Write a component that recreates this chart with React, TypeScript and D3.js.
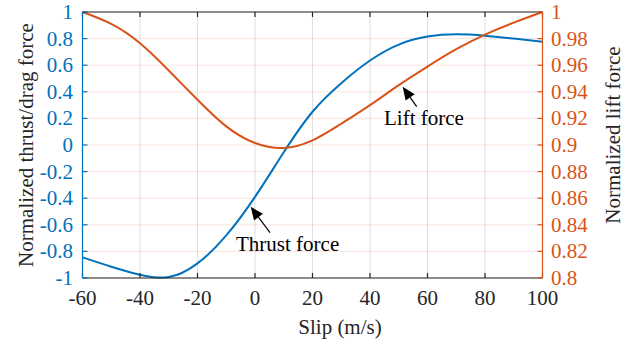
import React from "react";
import * as d3 from "d3";

const slip = [-60, -50, -40, -30, -20, -10, 0, 10, 20, 30, 40, 50, 60, 70, 80, 90, 100];
const thrust = [-0.845, -0.915, -0.975, -0.993, -0.89, -0.68, -0.39, -0.055, 0.25, 0.465, 0.635, 0.755, 0.815, 0.832, 0.822, 0.8, 0.777];
const lift = [1.0, 0.991, 0.9765, 0.956, 0.934, 0.914, 0.9015, 0.8978, 0.9035, 0.916, 0.93, 0.945, 0.959, 0.972, 0.983, 0.992, 1.0];

const xTicks = [-60, -40, -20, 0, 20, 40, 60, 80, 100];
const leftTicks = [-1, -0.8, -0.6, -0.4, -0.2, 0, 0.2, 0.4, 0.6, 0.8, 1];
const rightTicks = [0.8, 0.82, 0.84, 0.86, 0.88, 0.9, 0.92, 0.94, 0.96, 0.98, 1];

const BLUE = "#0072BD";
const ORANGE = "#D95319";
const DARK = "#262626";
const FONT = "Liberation Serif, DejaVu Serif, serif";

const fmt = (v: number) => String(Math.round(v * 1000) / 1000);

export default function App() {
  const W = 635, H = 343;
  const L = 82.5, R = 542.5, T = 12, B = 278;
  const x = d3.scaleLinear().domain([-60, 100]).range([L, R]);
  const yL = d3.scaleLinear().domain([-1, 1]).range([B, T]);
  const yR = d3.scaleLinear().domain([0.8, 1]).range([B, T]);

  const thrustLine = d3.line<number>().x((_, i) => x(slip[i])).y((d) => yL(d)).curve(d3.curveNatural);
  const liftLine = d3.line<number>().x((_, i) => x(slip[i])).y((d) => yR(d)).curve(d3.curveNatural);

  const tk = 5;

  const arrow = (tipX: number, tipY: number, tailX: number, tailY: number) => {
    const dx = tipX - tailX, dy = tipY - tailY;
    const len = Math.hypot(dx, dy);
    const ux = dx / len, uy = dy / len;
    const hl = 13, hw = 5.5;
    const bx = tipX - ux * hl, by = tipY - uy * hl;
    const px = -uy, py = ux;
    return (
      <g>
        <line x1={tailX} y1={tailY} x2={bx} y2={by} stroke="#000" strokeWidth={1.2} />
        <path d={`M${tipX},${tipY}L${bx + px * hw},${by + py * hw}L${bx - px * hw},${by - py * hw}Z`} fill="#000" />
      </g>
    );
  };

  const ts = { fontFamily: FONT, fontSize: "21px" } as React.CSSProperties;

  return (
    <svg width={W} height={H} style={{ position: "absolute", left: 0, top: 0, background: "#fff" }}>
      <rect x={0} y={0} width={W} height={H} fill="#fff" />
      {xTicks.map((t) => (
        <line key={"vg" + t} x1={x(t)} x2={x(t)} y1={T} y2={B} stroke={DARK} strokeOpacity={0.15} strokeWidth={1} />
      ))}
      {rightTicks.map((t) => (
        <line key={"hg" + t} x1={L} x2={R} y1={yR(t)} y2={yR(t)} stroke={ORANGE} strokeOpacity={0.15} strokeWidth={1} />
      ))}
      <path d={thrustLine(thrust) || ""} fill="none" stroke={BLUE} strokeWidth={2} />
      <path d={liftLine(lift) || ""} fill="none" stroke={ORANGE} strokeWidth={2} />

      <line x1={L} x2={R} y1={T} y2={T} stroke={DARK} strokeWidth={1.2} />
      <line x1={L} x2={R} y1={B} y2={B} stroke={DARK} strokeWidth={1.2} />
      {xTicks.map((t) => (
        <g key={"xt" + t}>
          <line x1={x(t)} x2={x(t)} y1={B} y2={B - tk} stroke={DARK} strokeWidth={1.2} />
          <line x1={x(t)} x2={x(t)} y1={T} y2={T + tk} stroke={DARK} strokeWidth={1.2} />
          <text x={x(t)} y={305} textAnchor="middle" style={ts} fill={DARK}>{fmt(t)}</text>
        </g>
      ))}
      <line x1={L} x2={L} y1={T} y2={B} stroke={BLUE} strokeWidth={1.2} />
      {leftTicks.map((t) => (
        <g key={"lt" + t}>
          <line x1={L} x2={L + tk} y1={yL(t)} y2={yL(t)} stroke={BLUE} strokeWidth={1.2} />
          <text x={73} y={yL(t) + 7} textAnchor="end" style={ts} fill={BLUE}>{fmt(t)}</text>
        </g>
      ))}
      <line x1={R} x2={R} y1={T} y2={B} stroke={ORANGE} strokeWidth={1.2} />
      {rightTicks.map((t) => (
        <g key={"rt" + t}>
          <line x1={R} x2={R - tk} y1={yR(t)} y2={yR(t)} stroke={ORANGE} strokeWidth={1.2} />
          <text x={551} y={yR(t) + 7} textAnchor="start" style={ts} fill={ORANGE}>{fmt(t)}</text>
        </g>
      ))}

      <text x={340} y={334} textAnchor="middle" style={ts} fill={DARK}>Slip (m/s)</text>
      <text transform={`translate(33,145) rotate(-90)`} textAnchor="middle" style={ts} fill={DARK}>Normalized thrust/drag force</text>
      <text transform={`translate(620,135) rotate(-90)`} textAnchor="middle" style={ts} fill={DARK}>Normalized lift force</text>

      {arrow(402.7, 86.7, 416.7, 106.7)}
      <text x={384} y={125} style={ts} fill="#000">Lift force</text>
      {arrow(250.7, 206.7, 270, 232.7)}
      <text x={236} y={250.5} style={ts} fill="#000">Thrust force</text>
    </svg>
  );
}
